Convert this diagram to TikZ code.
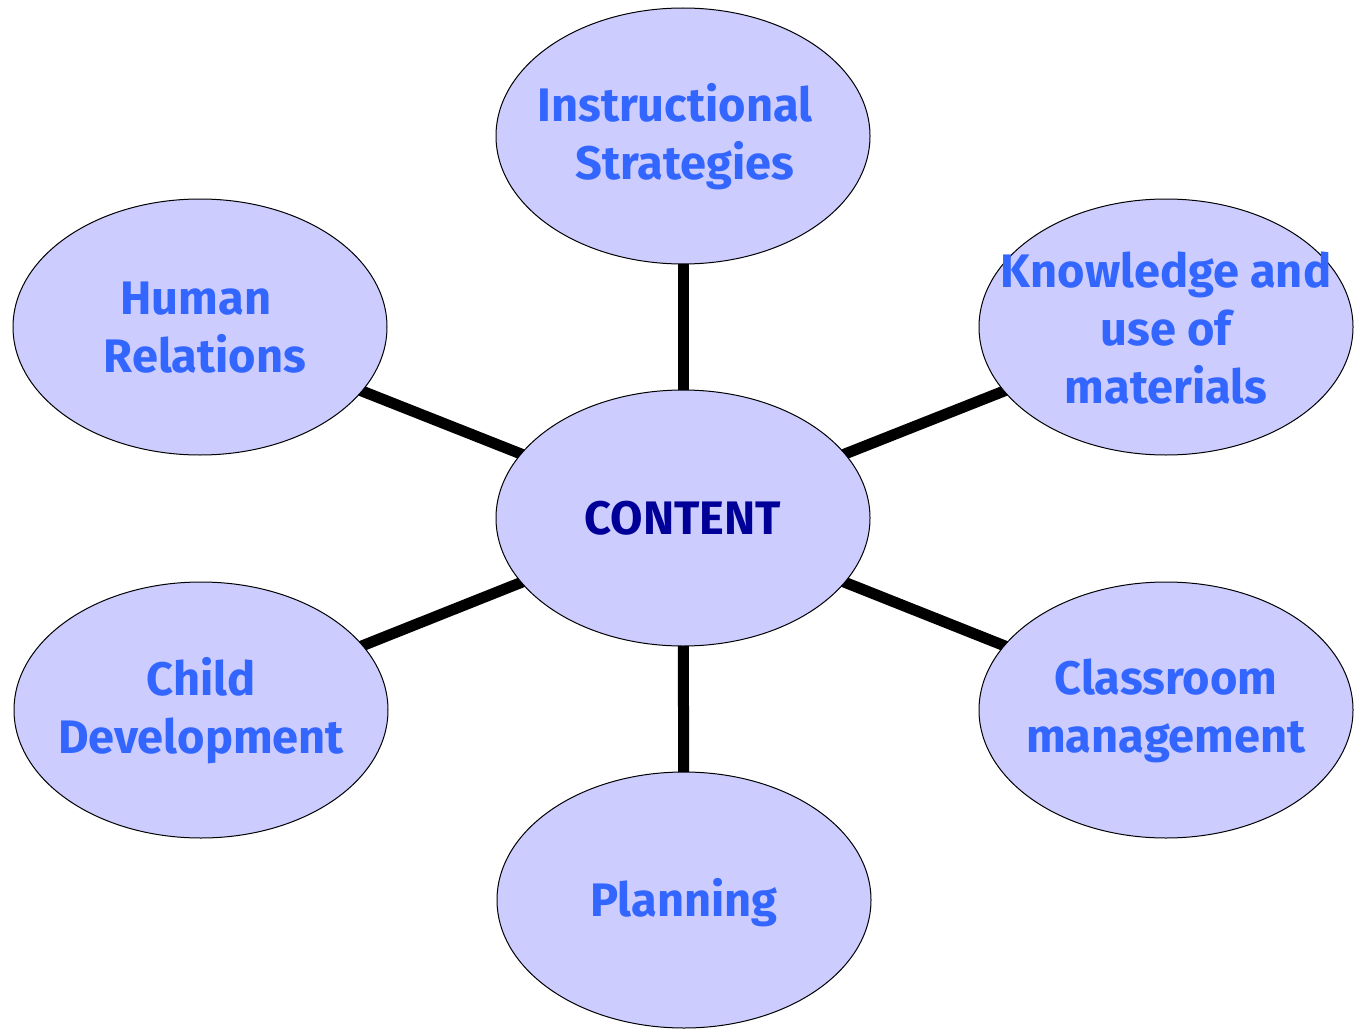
\documentclass[tikz,border=0pt]{standalone}
\usepackage{fontspec}
\setmainfont{Fira Sans}
\usetikzlibrary{shapes.geometric}
\pgfdeclarelayer{background}
\pgfsetlayers{background,main}
\definecolor{bubblefill}{HTML}{CCCCFF}
\definecolor{bubbletext}{HTML}{3366FF}
\definecolor{coretext}{HTML}{000099}
\begin{document}
\begin{tikzpicture}[x=1pt,y=-1pt,
  bubble/.style={ellipse,draw=black,line width=1pt,fill=bubblefill,minimum width=374pt,minimum height=256pt,inner sep=0pt},
  txt/.style={align=center,text=bubbletext,font=\fontsize{47}{58}\selectfont\bfseries},
  coretxt/.style={text=coretext,font=\fontsize{47}{58}\selectfont\bfseries},
  link/.style={line width=11pt,draw=black}]
\useasboundingbox (0,0) rectangle (1355,1030);
\node[bubble] (core) at (683,518) {};
\node[bubble] (is) at (683,136) {};
\node[bubble] (hr) at (200,327) {};
\node[bubble] (km) at (1166,327) {};
\node[bubble] (cd) at (201,710) {};
\node[bubble] (cm) at (1166,710) {};
\node[bubble] (pl) at (684,900) {};
\begin{pgfonlayer}{background}
\draw[link] (core.center) -- (is.center);
\draw[link] (core.center) -- (hr.center);
\draw[link] (core.center) -- (km.center);
\draw[link] (core.center) -- (cd.center);
\draw[link] (core.center) -- (cm.center);
\draw[link] (core.center) -- (pl.center);
\end{pgfonlayer}
\node[coretxt] (tcore) at (683,518) {CONTENT};
\node[txt] (tis) at (675,137) {Instructional\\\hspace*{20pt}Strategies};
\node[txt] (thr) at (196,328) {Human\\\hspace*{18pt}Relations};
\node[txt] (tkm) at (1166,328) {Knowledge and\\use of\\materials};
\node[txt] (tcd) at (201,711) {Child\\Development};
\node[txt] (tcm) at (1166,711) {Classroom\\management};
\node[txt] (tpl) at (684,903) {Planning};
\end{tikzpicture}
\end{document}
